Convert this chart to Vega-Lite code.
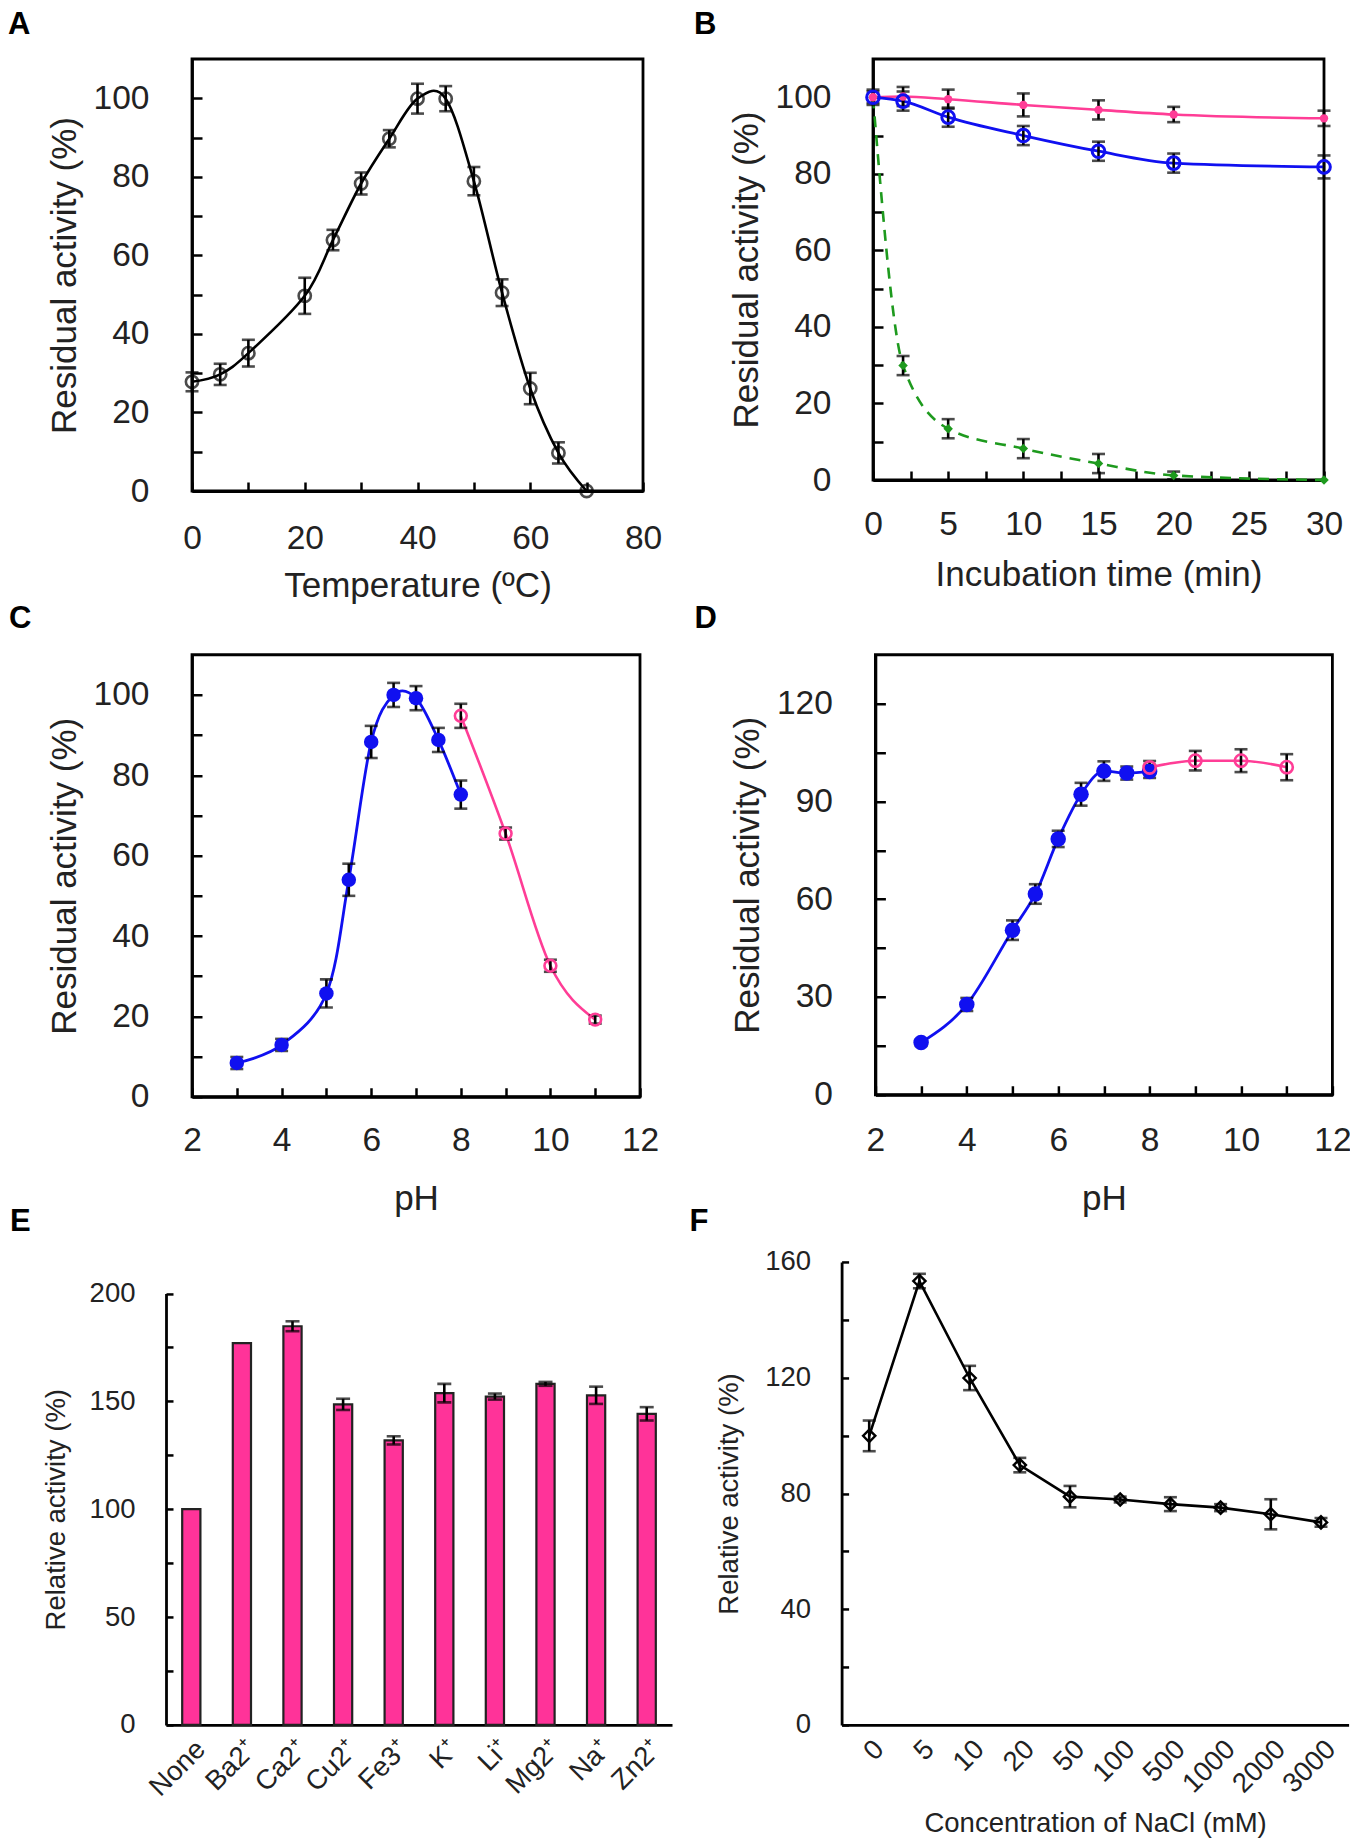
{
  "$schema": "https://vega.github.io/schema/vega-lite/v6.json",
  "padding": {"left": 6, "top": 8, "right": 0, "bottom": 0},
  "autosize": {"type": "pad"},
  "config": {
    "font": "Liberation Sans",
    "axis": {"grid": false, "domainColor": "black", "tickColor": "black", "labelColor": "#222", "titleColor": "#222", "titleFontWeight": "normal", "labelFlush": false, "labelOverlap": false},
    "title": {"fontSize": 31, "fontWeight": "bold", "anchor": "start", "frame": "group", "baseline": "alphabetic", "color": "black"}
  },
  "datasets": {
    "temp": [
      {"t": 0, "act": 27.8, "err": 2.4}, {"t": 5, "act": 29.7, "err": 2.7}, {"t": 10, "act": 35.1, "err": 3.4},
      {"t": 20, "act": 49.7, "err": 4.6}, {"t": 25, "act": 63.9, "err": 2.6}, {"t": 30, "act": 78.3, "err": 2.8},
      {"t": 35, "act": 89.7, "err": 2.2}, {"t": 40, "act": 99.9, "err": 3.8}, {"t": 45, "act": 99.9, "err": 3.2},
      {"t": 50, "act": 78.9, "err": 3.6}, {"t": 55, "act": 50.5, "err": 3.4}, {"t": 60, "act": 26.1, "err": 4},
      {"t": 65, "act": 9.7, "err": 2.7}, {"t": 70, "act": 0, "err": 0}
    ],
    "time": [
      {"min": 0, "s": "pink", "act": 100, "err": 1.5}, {"min": 2, "s": "pink", "act": 100.2, "err": 2.5},
      {"min": 5, "s": "pink", "act": 99.5, "err": 2.5}, {"min": 10, "s": "pink", "act": 98, "err": 3},
      {"min": 15, "s": "pink", "act": 96.7, "err": 2.5}, {"min": 20, "s": "pink", "act": 95.5, "err": 2},
      {"min": 30, "s": "pink", "act": 94.5, "err": 2},
      {"min": 0, "s": "blue", "act": 100, "err": 2}, {"min": 2, "s": "blue", "act": 99, "err": 2.5},
      {"min": 5, "s": "blue", "act": 94.8, "err": 2.5}, {"min": 10, "s": "blue", "act": 90, "err": 2.5},
      {"min": 15, "s": "blue", "act": 85.9, "err": 2.5}, {"min": 20, "s": "blue", "act": 82.8, "err": 2.5},
      {"min": 30, "s": "blue", "act": 81.8, "err": 3},
      {"min": 0, "s": "green", "act": 100, "err": 0}, {"min": 2, "s": "green", "act": 29.9, "err": 2.5},
      {"min": 5, "s": "green", "act": 13.4, "err": 2.5}, {"min": 10, "s": "green", "act": 8.2, "err": 2.5},
      {"min": 15, "s": "green", "act": 4.3, "err": 2.5}, {"min": 20, "s": "green", "act": 1.2, "err": 1},
      {"min": 30, "s": "green", "act": 0, "err": 0}
    ],
    "phc": [
      {"ph": 3, "s": "blue", "act": 8.4, "err": 1.5}, {"ph": 4, "s": "blue", "act": 12.9, "err": 1.5},
      {"ph": 5, "s": "blue", "act": 25.7, "err": 3.5}, {"ph": 5.5, "s": "blue", "act": 54, "err": 4},
      {"ph": 6, "s": "blue", "act": 88.3, "err": 4}, {"ph": 6.5, "s": "blue", "act": 100, "err": 3},
      {"ph": 7, "s": "blue", "act": 99.2, "err": 3}, {"ph": 7.5, "s": "blue", "act": 88.8, "err": 3},
      {"ph": 8, "s": "blue", "act": 75.2, "err": 3.5},
      {"ph": 8, "s": "pink", "act": 94.8, "err": 3}, {"ph": 9, "s": "pink", "act": 65.5, "err": 1.5},
      {"ph": 10, "s": "pink", "act": 32.6, "err": 1.5}, {"ph": 11, "s": "pink", "act": 19.2, "err": 1}
    ],
    "phd": [
      {"ph": 3, "s": "blue", "act": 16, "err": 1}, {"ph": 4, "s": "blue", "act": 27.7, "err": 2},
      {"ph": 5, "s": "blue", "act": 50.5, "err": 3}, {"ph": 5.5, "s": "blue", "act": 61.6, "err": 3},
      {"ph": 6, "s": "blue", "act": 78.5, "err": 2.5}, {"ph": 6.5, "s": "blue", "act": 92.2, "err": 3.5},
      {"ph": 7, "s": "blue", "act": 99.3, "err": 3}, {"ph": 7.5, "s": "blue", "act": 98.7, "err": 2},
      {"ph": 8, "s": "blue", "act": 99.2, "err": 2},
      {"ph": 8, "s": "pink", "act": 100.4, "err": 2}, {"ph": 9, "s": "pink", "act": 102.5, "err": 3},
      {"ph": 10, "s": "pink", "act": 102.5, "err": 3.5}, {"ph": 11, "s": "pink", "act": 100.5, "err": 4}
    ],
    "ions": [
      {"ion": "None", "act": 100, "err": 0}, {"ion": "Ba2⁺", "act": 177, "err": 0},
      {"ion": "Ca2⁺", "act": 184.8, "err": 2.3}, {"ion": "Cu2⁺", "act": 148.6, "err": 2.6},
      {"ion": "Fe3⁺", "act": 131.9, "err": 1.9}, {"ion": "K⁺", "act": 153.8, "err": 4.3},
      {"ion": "Li⁺", "act": 152.2, "err": 1.4}, {"ion": "Mg2⁺", "act": 158.1, "err": 0.9},
      {"ion": "Na⁺", "act": 152.8, "err": 4}, {"ion": "Zn2⁺", "act": 144.2, "err": 3.1}
    ],
    "nacl": [
      {"c": "0", "act": 99.9, "err": 5.3}, {"c": "5", "act": 153.4, "err": 2.5},
      {"c": "10", "act": 119.9, "err": 4.2}, {"c": "20", "act": 89.8, "err": 2.5},
      {"c": "50", "act": 78.9, "err": 3.7}, {"c": "100", "act": 77.9, "err": 1},
      {"c": "500", "act": 76.3, "err": 2.4}, {"c": "1000", "act": 75.1, "err": 1.2},
      {"c": "2000", "act": 72.8, "err": 5.2}, {"c": "3000", "act": 70, "err": 1.5}
    ]
  },
  "spacing": -3.25,
  "vconcat": [
    {
      "spacing": 28,
      "hconcat": [
        {
          "width": 451, "height": 432,
          "view": {"stroke": "black", "strokeWidth": 2.8},
          "title": {"text": "A", "dx": -184, "offset": 17.6},
          "data": {"name": "temp"},
          "encoding": {
            "x": {"field": "t", "type": "quantitative", "scale": {"domain": [0, 80], "nice": false},
              "axis": {"title": "Temperature (ºC)", "values": [0, 10, 20, 30, 40, 50, 60, 70, 80], "labelExpr": "datum.value % 20 === 0 ? datum.label : ''",
                "tickSize": -9, "tickWidth": 2.5, "domainWidth": 2.8, "labelPadding": 40, "labelFontSize": 33.5, "titleFontSize": 35, "titlePadding": 13.5}},
            "y": {"field": "act", "type": "quantitative", "scale": {"domain": [0, 110], "nice": false},
              "axis": {"title": "Residual activity (%)", "values": [0, 10, 20, 30, 40, 50, 60, 70, 80, 90, 100], "labelExpr": "datum.value % 20 === 0 ? datum.label : ''",
                "tickSize": -10, "tickWidth": 2.5, "domainWidth": 2.8, "labelPadding": 53, "labelFontSize": 33.5, "titleFontSize": 35, "titlePadding": 11}}
          },
          "layer": [
            {"mark": {"type": "line", "interpolate": "cardinal", "color": "black", "strokeWidth": 2.6}},
            {"mark": {"type": "errorbar", "ticks": true, "size": 13, "thickness": 2.6, "color": "black"}, "encoding": {"yError": {"field": "err"}}},
            {"mark": {"type": "point", "shape": "circle", "filled": false, "size": 150, "strokeWidth": 2.6, "color": "black"}}
          ]
        },
        {
          "width": 451, "height": 421,
          "view": {"stroke": "black", "strokeWidth": 2.8},
          "title": {"text": "B", "dx": -179, "offset": 17.6},
          "data": {"name": "time"},
          "encoding": {
            "x": {"field": "min", "type": "quantitative", "scale": {"domain": [0, 30], "nice": false},
              "axis": {"title": "Incubation time (min)", "values": [0, 2.5, 5, 7.5, 10, 12.5, 15, 17.5, 20, 22.5, 25, 27.5, 30], "labelExpr": "datum.value % 5 === 0 ? datum.label : ''",
                "tickSize": -9, "tickWidth": 2.5, "domainWidth": 2.8, "labelPadding": 37.5, "labelFontSize": 33.5, "titleFontSize": 35, "titlePadding": 16}},
            "y": {"field": "act", "type": "quantitative", "scale": {"domain": [0, 110], "nice": false},
              "axis": {"title": "Residual activity (%)", "values": [0, 10, 20, 30, 40, 50, 60, 70, 80, 90, 100], "labelExpr": "datum.value % 20 === 0 ? datum.label : ''",
                "tickSize": -10, "tickWidth": 2.5, "domainWidth": 2.8, "labelPadding": 52, "labelFontSize": 33.5, "titleFontSize": 35, "titlePadding": 11}}
          },
          "layer": [
            {"transform": [{"filter": "datum.s === 'green'"}], "mark": {"type": "line", "interpolate": "monotone", "color": "#1e9a1e", "strokeWidth": 2.6, "strokeDash": [11, 8]}},
            {"transform": [{"filter": "datum.s === 'pink'"}], "mark": {"type": "line", "interpolate": "monotone", "color": "#ff3d96", "strokeWidth": 2.6}},
            {"transform": [{"filter": "datum.s === 'blue'"}], "mark": {"type": "line", "interpolate": "monotone", "color": "#1010f0", "strokeWidth": 2.8}},
            {"transform": [{"filter": "datum.err > 0"}], "mark": {"type": "errorbar", "ticks": true, "size": 13, "thickness": 2.6, "color": "black"}, "encoding": {"yError": {"field": "err"}}},
            {"transform": [{"filter": "datum.s === 'green'"}], "mark": {"type": "point", "shape": "diamond", "filled": true, "size": 90, "color": "#1e9a1e", "opacity": 1}},
            {"transform": [{"filter": "datum.s === 'pink'"}], "mark": {"type": "point", "shape": "circle", "filled": true, "size": 70, "color": "#ff3d96", "opacity": 1}},
            {"transform": [{"filter": "datum.s === 'blue'"}], "mark": {"type": "point", "shape": "circle", "filled": false, "size": 160, "strokeWidth": 3, "color": "#1010f0", "opacity": 1}}
          ]
        }
      ]
    },
    {
      "spacing": -11.8,
      "vconcat": [
        {
          "spacing": 31.4,
          "hconcat": [
            {
              "width": 448, "height": 442,
              "view": {"stroke": "black", "strokeWidth": 2.8},
              "title": {"text": "C", "dx": -183, "offset": 19.4},
              "data": {"name": "phc"},
              "encoding": {
                "x": {"field": "ph", "type": "quantitative", "scale": {"domain": [2, 12], "nice": false, "zero": false},
                  "axis": {"title": "pH", "values": [2, 3, 4, 5, 6, 7, 8, 9, 10, 11, 12], "labelExpr": "datum.value % 2 === 0 ? datum.label : ''",
                    "tickSize": -9, "tickWidth": 2.5, "domainWidth": 2.8, "labelPadding": 37, "labelFontSize": 33.5, "titleFontSize": 35, "titlePadding": 24}},
                "y": {"field": "act", "type": "quantitative", "scale": {"domain": [0, 110], "nice": false},
                  "axis": {"title": "Residual activity (%)", "values": [0, 10, 20, 30, 40, 50, 60, 70, 80, 90, 100], "labelExpr": "datum.value % 20 === 0 ? datum.label : ''",
                    "tickSize": -10, "tickWidth": 2.5, "domainWidth": 2.8, "labelPadding": 53, "labelFontSize": 33.5, "titleFontSize": 35, "titlePadding": 11}}
              },
              "layer": [
                {"transform": [{"filter": "datum.s === 'blue'"}], "mark": {"type": "line", "interpolate": "cardinal", "color": "#1010f0", "strokeWidth": 2.8}},
                {"transform": [{"filter": "datum.s === 'pink'"}], "mark": {"type": "line", "interpolate": "monotone", "color": "#ff3d96", "strokeWidth": 2.6}},
                {"mark": {"type": "errorbar", "ticks": true, "size": 13, "thickness": 2.6, "color": "black"}, "encoding": {"yError": {"field": "err"}}},
                {"transform": [{"filter": "datum.s === 'blue'"}], "mark": {"type": "point", "shape": "circle", "filled": true, "size": 210, "color": "#1010f0", "opacity": 1}},
                {"transform": [{"filter": "datum.s === 'pink'"}], "mark": {"type": "point", "shape": "circle", "filled": false, "size": 140, "strokeWidth": 2.6, "color": "#ff3d96", "opacity": 1}}
              ]
            },
            {
              "width": 457, "height": 440,
              "view": {"stroke": "black", "strokeWidth": 2.8},
              "title": {"text": "D", "dx": -181, "offset": 19.4},
              "data": {"name": "phd"},
              "encoding": {
                "x": {"field": "ph", "type": "quantitative", "scale": {"domain": [2, 12], "nice": false, "zero": false},
                  "axis": {"title": "pH", "values": [2, 3, 4, 5, 6, 7, 8, 9, 10, 11, 12], "labelExpr": "datum.value % 2 === 0 ? datum.label : ''",
                    "tickSize": -9, "tickWidth": 2.5, "domainWidth": 2.8, "labelPadding": 39, "labelFontSize": 33.5, "titleFontSize": 35, "titlePadding": 24}},
                "y": {"field": "act", "type": "quantitative", "scale": {"domain": [0, 135], "nice": false},
                  "axis": {"title": "Residual activity (%)", "values": [0, 15, 30, 45, 60, 75, 90, 105, 120], "labelExpr": "datum.value % 30 === 0 ? datum.label : ''",
                    "tickSize": -10, "tickWidth": 2.5, "domainWidth": 2.8, "labelPadding": 53, "labelFontSize": 33.5, "titleFontSize": 35, "titlePadding": 11}}
              },
              "layer": [
                {"transform": [{"filter": "datum.s === 'blue'"}], "mark": {"type": "line", "interpolate": "monotone", "color": "#1010f0", "strokeWidth": 2.8}},
                {"transform": [{"filter": "datum.s === 'pink'"}], "mark": {"type": "line", "interpolate": "monotone", "color": "#ff3d96", "strokeWidth": 2.6}},
                {"mark": {"type": "errorbar", "ticks": true, "size": 13, "thickness": 2.6, "color": "black"}, "encoding": {"yError": {"field": "err"}}},
                {"transform": [{"filter": "datum.s === 'blue'"}], "mark": {"type": "point", "shape": "circle", "filled": true, "size": 240, "color": "#1010f0", "opacity": 1}},
                {"transform": [{"filter": "datum.s === 'pink'"}], "mark": {"type": "point", "shape": "circle", "filled": false, "size": 150, "strokeWidth": 2.6, "color": "#ff3d96", "opacity": 1}}
              ]
            }
          ]
        },
        {
          "spacing": -8.4,
          "hconcat": [
            {
              "width": 480, "height": 463,
              "view": {"stroke": null},
              "title": {"text": "E", "dx": -182, "offset": 23.5},
              "data": {"name": "ions"},
              "encoding": {
                "x": {"field": "ion", "type": "nominal", "sort": null, "scale": {"range": [-26, 480], "paddingInner": 0.64, "paddingOuter": 0.32},
                  "axis": {"title": null, "labelAngle": -45, "ticks": false, "domainWidth": 2.8, "labelPadding": 10, "labelFontSize": 27.5}},
                "y": {"field": "act", "type": "quantitative", "scale": {"domain": [0, 200], "nice": false, "range": [463, 31.5]},
                  "axis": {"title": "Relative activity (%)", "offset": 26, "values": [0, 25, 50, 75, 100, 125, 150, 175, 200], "labelExpr": "datum.value % 50 === 0 ? datum.label : ''",
                    "tickSize": -7, "tickWidth": 2.5, "domainWidth": 2.8, "labelPadding": 38, "labelFontSize": 27.5, "titleFontSize": 27.5, "titlePadding": 19}}
              },
              "layer": [
                {"mark": {"type": "bar", "color": "#ff3399", "stroke": "#222", "strokeWidth": 2.2}},
                {"transform": [{"filter": "datum.err > 0"}], "mark": {"type": "errorbar", "ticks": true, "size": 14, "thickness": 2.6, "color": "black"}, "encoding": {"yError": {"field": "err"}}}
              ]
            },
            {
              "width": 507, "height": 463,
              "view": {"stroke": null},
              "title": {"text": "F", "dx": -152, "offset": 9.75},
              "data": {"name": "nacl"},
              "encoding": {
                "x": {"field": "c", "type": "ordinal", "sort": null, "scale": {"type": "point", "padding": 0.55},
                  "axis": {"title": "Concentration of NaCl (mM)", "labelAngle": -45, "ticks": false, "domainWidth": 2.8, "labelPadding": 10, "labelFontSize": 27.5, "titleFontSize": 27.5, "titlePadding": 12}},
                "y": {"field": "act", "type": "quantitative", "scale": {"domain": [0, 160], "nice": false},
                  "axis": {"title": "Relative activity (%)", "values": [0, 20, 40, 60, 80, 100, 120, 140, 160], "labelExpr": "datum.value % 40 === 0 ? datum.label : ''",
                    "tickSize": -7, "tickWidth": 2.5, "domainWidth": 2.8, "labelPadding": 38, "labelFontSize": 27.5, "titleFontSize": 27.5, "titlePadding": 21}}
              },
              "layer": [
                {"mark": {"type": "line", "color": "black", "strokeWidth": 2.6}},
                {"mark": {"type": "errorbar", "ticks": true, "size": 13, "thickness": 2.6, "color": "black"}, "encoding": {"yError": {"field": "err"}}},
                {"mark": {"type": "point", "shape": "diamond", "filled": false, "size": 150, "strokeWidth": 2.4, "color": "black", "opacity": 1}}
              ]
            }
          ]
        }
      ]
    }
  ]
}
